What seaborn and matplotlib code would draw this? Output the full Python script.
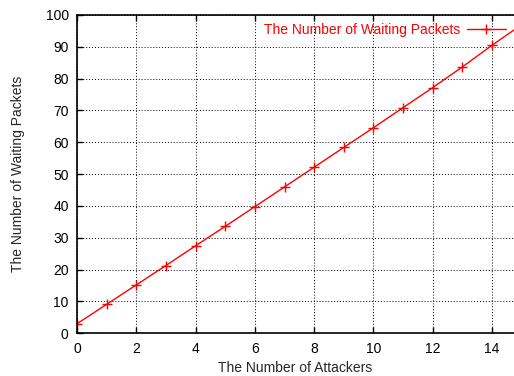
import matplotlib
matplotlib.use("Agg")
import matplotlib.pyplot as plt
import seaborn as sns
import pandas as pd

attackers = list(range(16))
waiting = [3.0, 9.1, 15.2, 21.3, 27.5, 33.6, 39.8, 46.0, 52.2, 58.4,
           64.6, 70.9, 77.2, 83.7, 90.5, 97.0]
series_label = "The Number of Waiting Packets"
x_ticks = [0, 2, 4, 6, 8, 10, 12, 14]
y_ticks = [0, 10, 20, 30, 40, 50, 60, 70, 80, 90, 100]

df = pd.DataFrame({"x": attackers, "y": waiting, "s": series_label})

sns.set_style("white")
plt.rcParams["font.family"] = ["Liberation Sans", "DejaVu Sans"]

fig = plt.figure(figsize=(5.14, 3.76), dpi=100)
W, H = 514, 376
ax = fig.add_axes([77 / W, 1 - 333.3 / H, (W - 77) / W, (333.3 - 15) / H])

sns.lineplot(data=df, x="x", y="y", hue="s", palette=["#ff0000"], marker="+",
             markersize=7, markeredgewidth=1.0, linewidth=1.0, ax=ax,
             markeredgecolor="#ff0000")

ax.set_xlim(0, 14.74)
ax.set_ylim(0, 100)
ax.set_xticks(x_ticks)
ax.set_yticks(y_ticks)
ax.grid(True, color="black", linestyle=(0, (1, 2)), linewidth=0.7)
ax.tick_params(direction="in", length=4, width=1, labelsize=10, colors="black",
               top=True, bottom=True, left=True, right=False, pad=6)
for sp in ["left", "bottom", "top"]:
    ax.spines[sp].set_color("black")
    ax.spines[sp].set_linewidth(1.2)
ax.spines["right"].set_visible(False)

ax.set_xlabel("The Number of Attackers", fontsize=10, labelpad=4)
ax.set_ylabel("The Number of Waiting Packets", fontsize=10, labelpad=15)

leg = ax.legend(loc="upper right", frameon=False, markerfirst=False,
                labelcolor="#ff0000", fontsize=10, handlelength=2.8,
                handletextpad=0.5,
                bbox_to_anchor=(1.0, 1.0), borderaxespad=0.2)

fig.savefig("out.png", dpi=100)
